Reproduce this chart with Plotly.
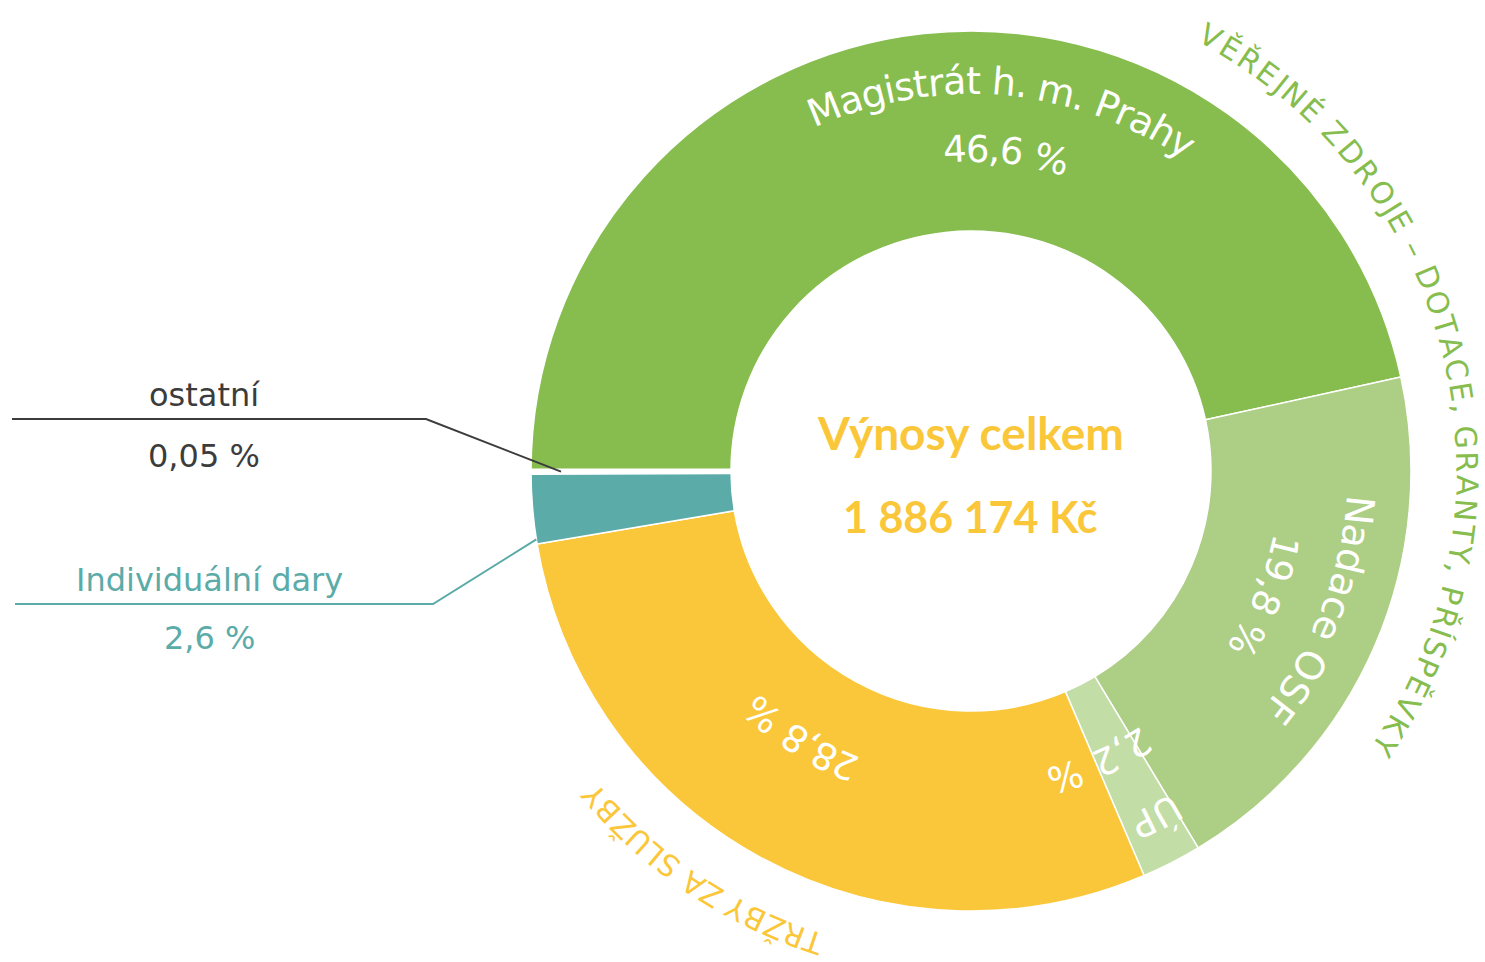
import math
import plotly.graph_objects as go

# ---------------- data ----------------
categories = ["Magistrát h. m. Prahy", "Nadace OSF", "ÚP", "Tržby za služby",
              "Individuální dary", "ostatní"]
shares = [46.6, 19.8, 2.2, 28.8, 2.6, 0.05]
share_labels = ["46,6 %", "19,8 %", "2,2 %", "28,8 %", "2,6 %", "0,05 %"]
ring_names = ["Magistrát h. m. Prahy", "Nadace OSF", "ÚP", "", "", ""]
callout_names = ["", "", "", "", "Individuální dary", "ostatní"]
group_public = "VĚŘEJNÉ ZDROJE – DOTACE, GRANTY, PŘÍSPĚVKY"
group_sales = "TRŽBY ZA SLUŽBY"
total_title = "Výnosy celkem"
total_value = "1 886 174 Kč"

# ---------------- style / layout ----------------
W, H = 1485, 962
CX, CY, R = 971, 471, 440
HOLE = 240 / 440
START = 270  # first slice starts at 9 o'clock, clockwise
slice_colors = ["#86BD4E", "#ADCE85", "#C3DDA6", "#FBC73A", "#5BABA8", "#FFFFFF"]
slice_line_w = [1.5, 1.5, 1.5, 1.5, 1.5, 5]
GREEN, YELLOW, TEAL, DARK = "#86BD4E", "#FBC73A", "#5BABA8", "#3C3C3C"
FONT = "DejaVu Sans"

# DejaVu Sans advance widths (em)
CW = {" ": .318, ",": .318, ".": .318, "%": .95, "–": .5,
      "A": .684, "B": .686, "C": .698, "D": .770, "E": .632, "F": .575,
      "G": .775, "I": .295, "J": .295, "K": .656, "L": .557, "M": .863,
      "N": .748, "O": .787, "P": .603, "R": .695, "S": .635, "T": .611,
      "U": .732, "V": .684, "Y": .611, "Z": .685,
      "a": .613, "c": .55, "d": .635, "e": .615, "g": .635, "h": .634,
      "i": .278, "l": .278, "m": .974, "n": .634, "o": .612, "r": .411,
      "s": .521, "t": .392, "y": .592}
BASE = {"Ě": "E", "É": "E", "Ř": "R", "Í": "I", "Ž": "Z", "Ú": "U",
        "á": "a", "í": "i", "ý": "y", "č": "c"}


def cw(ch):
    if ch.isdigit():
        return .636
    return CW.get(BASE.get(ch, ch), .6)


def P(px, py):
    return px / W, 1 - py / H


# slice angles (clock degrees) derived from the data
total = sum(shares)
bounds = []
a = START
for v in shares:
    b = a + v / total * 360
    bounds.append((a, b))
    a = b

annotations = []


def arc_text(text, r, a0, a1, size, color):
    widths = [cw(ch) for ch in text]
    centers, acc = [], 0.0
    for w in widths:
        centers.append(acc + w / 2)
        acc += w
    c0, c1 = centers[0], centers[-1]
    for ch, c in zip(text, centers):
        if ch == " ":
            continue
        t = a0 + (c - c0) / (c1 - c0) * (a1 - a0)
        th = math.radians(t)
        x, y = P(CX + r * math.sin(th), CY - r * math.cos(th))
        ang = ((t + 180) % 360) - 180
        annotations.append(dict(x=x, y=y, xref="paper", yref="paper", text=ch,
                                showarrow=False, textangle=ang, borderpad=0,
                                xanchor="center", yanchor="middle",
                                font=dict(family=FONT, size=size, color=color)))


# label placements: (text, radius, first-char angle, last-char angle, size, color)
ring_specs = [
    (ring_names[0], 390, -22.0, 32.8, 38, "white"),
    (share_labels[0], 322, -2.9, 14.5, 37, "white"),
    (ring_names[1], 390, 95.7, 127.7, 39, "white"),
    (share_labels[1], 322, 103.7, 121.4, 37, "white"),
    (ring_names[2], 392, 150.0, 153.9, 37, "white"),
    (share_labels[2], 319, 148.6, 162.8, 37, "white"),
    (share_labels[3], 320, 203.2, 220.5, 37, "white"),
    (group_public, 496, 28.9, 123.5, 30, GREEN),
    (group_sales, 497, 198.6, 229.2, 30, YELLOW),
]
for spec in ring_specs:
    arc_text(*spec)

# centre text
for txt, py, fs in [(total_title, 432, 46), (total_value, 516, 43)]:
    x, y = P(CX, py)
    annotations.append(dict(x=x, y=y, xref="paper", yref="paper", text=txt,
                            showarrow=False, xanchor="center", yanchor="middle",
                            font=dict(family="Lato", size=fs, color=YELLOW,
                                      weight=700)))

# callouts for small slices
shapes = []
callouts = [
    # slice index, colour, line y, left x, bend x, end radius, fraction in slice, text y (name, value)
    (5, DARK, 419, 12, 426, 410, 0.5, 395, 456),
    (4, TEAL, 604, 15, 433, R, 0.064, 580, 638),
]
for idx, col, ly, lx, bx, er, frac, ny, vy in callouts:
    s0, s1 = bounds[idx]
    t = math.radians(s0 + frac * (s1 - s0))
    ex, ey = CX + er * math.sin(t), CY - er * math.cos(t)
    pts = [P(lx, ly), P(bx, ly), P(ex, ey)]
    path = "M " + " L ".join(f"{px:.5f},{py:.5f}" for px, py in pts)
    shapes.append(dict(type="path", path=path, xref="paper", yref="paper",
                       line=dict(color=col, width=2)))
    tx = (lx + bx) / 2 - 15
    for txt, yy in [(callout_names[idx], ny), (share_labels[idx], vy)]:
        x, y = P(tx, yy)
        annotations.append(dict(x=x, y=y, xref="paper", yref="paper", text=txt,
                                showarrow=False, xanchor="center", yanchor="middle",
                                font=dict(family=FONT, size=32, color=col)))

fig = go.Figure(go.Pie(
    labels=categories, values=shares, sort=False, direction="clockwise",
    rotation=START, hole=HOLE, textinfo="none", hoverinfo="label+percent",
    marker=dict(colors=slice_colors, line=dict(color="white", width=slice_line_w)),
    domain=dict(x=[(CX - R) / W, (CX + R) / W],
                y=[(H - CY - R) / H, (H - CY + R) / H]),
    showlegend=False,
))
fig.update_layout(width=W, height=H, margin=dict(l=0, r=0, t=0, b=0),
                  paper_bgcolor="white", plot_bgcolor="white",
                  annotations=annotations, shapes=shapes)
fig.write_html("out.html")
